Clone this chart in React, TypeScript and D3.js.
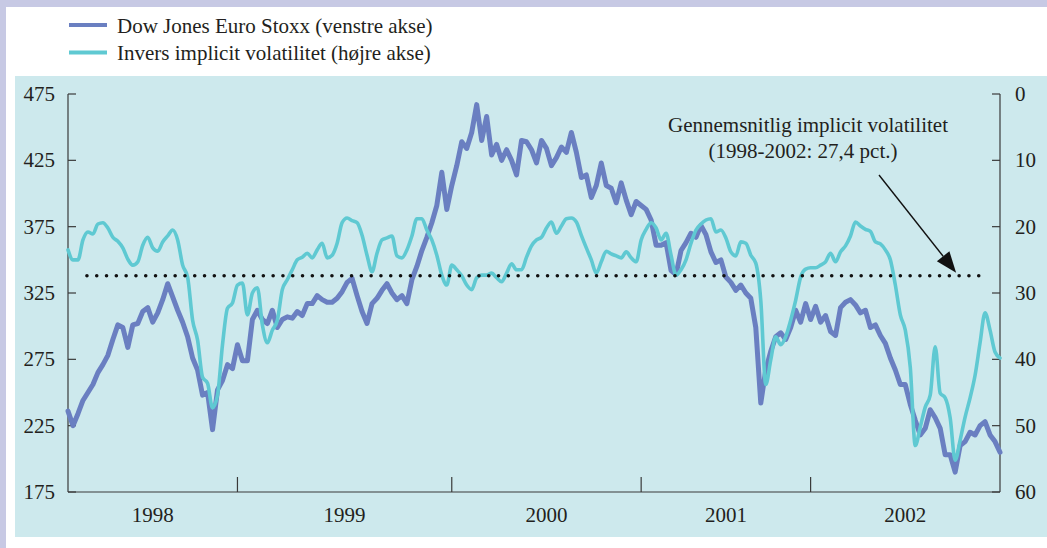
import React from 'react';
import * as d3 from 'd3';

// ---------- data ----------
const years = ['1998', '1999', '2000', '2001', '2002'];
// index of the first observation of each year (last entry = last index)
const yearStartIndex = [0, 34, 77, 115, 149, 187];
const leftTicks = [175, 225, 275, 325, 375, 425, 475];
const rightTicks = [0, 10, 20, 30, 40, 50, 60];

// Dow Jones Euro Stoxx (left axis)
const stoxx = [
  236, 225, 234, 244, 250, 256, 265, 271, 278, 290,
  301, 299, 284, 301, 302, 311, 314, 303, 310, 320,
  332, 322, 312, 303, 292, 276, 267, 248, 250, 222,
  252, 259, 271, 268, 286, 274, 274, 305, 312, 305,
  302, 312, 299, 305, 307, 306, 311, 308, 317, 317,
  323, 320, 318, 318, 321, 326, 333, 336, 323, 311,
  302, 317, 321, 327, 332, 325, 320, 323, 317, 335,
  345, 357, 367, 378, 391, 416, 388, 406, 421, 439,
  434, 446, 467, 440, 458, 429, 437, 425, 433, 425,
  414, 440, 439, 433, 423, 440, 434, 421, 427, 435,
  431, 446, 431, 412, 414, 397, 406, 423, 406, 404,
  393, 408, 395, 384, 394, 391, 388, 380, 361, 361,
  363, 342, 339, 357, 363, 370, 367, 376, 369, 356,
  348, 350, 337, 333, 327, 331, 325, 321, 299, 242,
  267, 281, 292, 295, 290, 299, 312, 303, 317, 305,
  315, 303, 308, 296, 293, 314, 318, 320, 316, 310,
  312, 299, 301, 293, 287, 276, 267, 256, 256, 241,
  229, 218, 223, 237, 231, 223, 203, 203, 190, 210,
  213, 220, 218, 225, 228, 218, 213, 205,
];

// Inverse implied volatility (right axis, inverted)
const invVol = [
  23.5, 25.0, 25.0, 22.0, 20.8, 21.1, 19.6, 19.4, 20.2, 21.6,
  22.2, 23.2, 24.9, 25.8, 25.3, 22.8, 21.6, 23.2, 23.7, 22.3,
  21.4, 20.5, 22.0, 25.8, 27.6, 34.1, 37.1, 42.7, 43.6, 47.3,
  45.4, 37.8, 32.3, 31.5, 28.8, 28.5, 33.3, 30.0, 29.2, 34.8,
  37.5, 35.6, 34.1, 29.5, 28.0, 26.5, 25.0, 24.6, 24.0, 24.7,
  23.5, 22.5, 24.7, 24.3, 22.5, 19.4, 18.7, 19.1, 19.4, 21.3,
  24.3, 26.8, 24.0, 22.0, 21.7, 21.4, 24.4, 24.7, 23.5, 21.4,
  18.8, 18.8, 20.5, 22.0, 24.3, 27.3, 28.8, 25.8, 26.5, 27.4,
  28.8, 29.5, 27.7, 27.3, 27.3, 27.0, 27.7, 28.3, 27.0, 25.6,
  26.5, 26.5, 24.6, 22.9, 22.0, 21.6, 20.2, 19.3, 21.0, 19.9,
  18.8, 18.7, 19.3, 21.3, 23.2, 25.0, 27.0, 25.3, 23.7, 24.1,
  24.4, 24.7, 23.8, 24.7, 25.3, 22.0, 20.4, 19.4, 20.2, 22.0,
  21.0, 24.3, 27.3, 26.5, 25.0, 22.5, 20.5, 19.6, 19.0, 18.8,
  20.8, 20.5, 21.7, 23.8, 24.4, 22.3, 22.5, 24.3, 25.5, 31.1,
  43.8, 40.1, 36.6, 37.8, 36.6, 34.1, 31.1, 27.6, 26.4, 26.2,
  26.2, 25.8, 25.3, 24.0, 25.3, 23.8, 22.9, 21.4, 19.3, 19.9,
  20.4, 20.7, 22.3, 22.6, 23.5, 25.0, 28.8, 33.3, 35.6, 41.2,
  53.0, 50.2, 47.2, 45.4, 38.1, 45.1, 45.8, 48.8, 55.2, 52.2,
  48.7, 45.8, 42.4, 37.5, 33.0, 35.6, 38.9, 39.8,
];

const avgVol = 27.4;
const legendLabels = ['Dow Jones Euro Stoxx (venstre akse)', 'Invers implicit volatilitet (højre akse)'];
const annotationLines = ['Gennemsnitlig implicit volatilitet', '(1998-2002: 27,4 pct.)'];
const dotStartIndex = 3.8;
const dotEndIndex = 184;
const arrowTipIndex = 178.2;

// ---------- layout ----------
const W = 1047;
const H = 548;
const plot = { left: 68, right: 1000, top: 94, bottom: 492 };
const colors = {
  border: '#c7c9e4',
  panel: '#cde9ed',
  stoxx: '#6a7fc1',
  vol: '#5fc9d2',
  ink: '#231f20',
};
const font = '"Liberation Serif", "Times New Roman", serif';
const fs = 21;

export default function App() {
  const x = d3.scaleLinear().domain([0, stoxx.length - 1]).range([plot.left, plot.right]);
  const yL = d3.scaleLinear().domain([175, 475]).range([plot.bottom, plot.top]);
  const yR = d3.scaleLinear().domain([0, 60]).range([plot.top, plot.bottom]);

  const stoxxLine = d3
    .line<number>()
    .x((_, i) => x(i))
    .y((d) => yL(d))
    .curve(d3.curveLinear)(stoxx) as string;
  const volLine = d3
    .line<number>()
    .x((_, i) => x(i))
    .y((d) => yR(d))
    .curve(d3.curveMonotoneX)(invVol) as string;

  const yAvg = yR(avgVol);

  // arrow
  const tipX = x(arrowTipIndex);
  const tipY = yAvg - 3;
  const startX = 879;
  const startY = 175;
  const dx = tipX - startX;
  const dy = tipY - startY;
  const len = Math.hypot(dx, dy);
  const ux = dx / len;
  const uy = dy / len;
  const headLen = 21;
  const headHalf = 8;
  const bx = tipX - ux * headLen;
  const by = tipY - uy * headLen;
  const head = [
    [tipX, tipY],
    [bx - uy * headHalf, by + ux * headHalf],
    [bx + uy * headHalf, by - ux * headHalf],
  ];

  return (
    <svg
      width={W}
      height={H}
      style={{ position: 'absolute', left: 0, top: 0, display: 'block' }}
      fontFamily={font}
    >
      {/* frame */}
      <rect x={0} y={0} width={W} height={H} fill={colors.border} />
      <rect x={6} y={7} width={W - 6} height={H - 7} fill="#ffffff" />
      <rect x={15} y={76} width={W - 15} height={537 - 76} fill={colors.panel} />

      {/* legend */}
      {legendLabels.map((lab, i) => (
        <g key={lab}>
          <line
            x1={69}
            x2={107}
            y1={25 + i * 27.5}
            y2={25 + i * 27.5}
            stroke={i === 0 ? colors.stoxx : colors.vol}
            strokeWidth={4}
          />
          <text x={117} y={33 + i * 27} fontSize={fs} fill={colors.ink}>
            {lab}
          </text>
        </g>
      ))}

      {/* axes */}
      <g stroke="#3a3a3a" strokeWidth={1.2} fill="none">
        <line x1={plot.left} x2={plot.left} y1={plot.top} y2={plot.bottom} />
        <line x1={plot.right} x2={plot.right} y1={plot.top} y2={plot.bottom} />
        <line x1={plot.left} x2={plot.right} y1={plot.bottom} y2={plot.bottom} />
        {leftTicks.map((t) => (
          <line key={'l' + t} x1={plot.left} x2={plot.left + 8} y1={yL(t)} y2={yL(t)} />
        ))}
        {rightTicks.map((t) => (
          <line key={'r' + t} x1={plot.right - 8} x2={plot.right} y1={yR(t)} y2={yR(t)} />
        ))}
        {yearStartIndex.slice(1, -1).map((idx) => (
          <line key={'x' + idx} x1={x(idx)} x2={x(idx)} y1={plot.bottom} y2={plot.bottom - 15} />
        ))}
      </g>
      {leftTicks.map((t) => (
        <text key={'lt' + t} x={55} y={yL(t) + 7} textAnchor="end" fontSize={fs} fill={colors.ink}>
          {t}
        </text>
      ))}
      {rightTicks.map((t) => (
        <text key={'rt' + t} x={1015} y={yR(t) + 7} textAnchor="start" fontSize={fs} fill={colors.ink}>
          {t}
        </text>
      ))}
      {years.map((yr, i) => (
        <text
          key={yr}
          x={(x(yearStartIndex[i]) + x(yearStartIndex[i + 1])) / 2}
          y={522}
          textAnchor="middle"
          fontSize={fs}
          fill={colors.ink}
        >
          {yr}
        </text>
      ))}

      {/* series */}
      <path d={stoxxLine} fill="none" stroke={colors.stoxx} strokeWidth={5} strokeLinejoin="round" strokeLinecap="round" />
      <path d={volLine} fill="none" stroke={colors.vol} strokeWidth={3.6} strokeLinejoin="round" strokeLinecap="round" />

      {/* average implied volatility */}
      <line
        x1={x(dotStartIndex)}
        x2={x(dotEndIndex)}
        y1={yAvg}
        y2={yAvg}
        stroke="#111"
        strokeWidth={3.6}
        strokeLinecap="round"
        strokeDasharray="0 9.8"
      />

      {/* annotation */}
      <text x={808} y={132} textAnchor="middle" fontSize={fs} fill={colors.ink}>
        {annotationLines[0]}
      </text>
      <text x={803} y={158} textAnchor="middle" fontSize={fs} fill={colors.ink}>
        {annotationLines[1]}
      </text>
      <line x1={startX} y1={startY} x2={bx} y2={by} stroke="#111" strokeWidth={1.4} />
      <polygon points={head.map((p) => p.join(',')).join(' ')} fill="#111" />
    </svg>
  );
}
